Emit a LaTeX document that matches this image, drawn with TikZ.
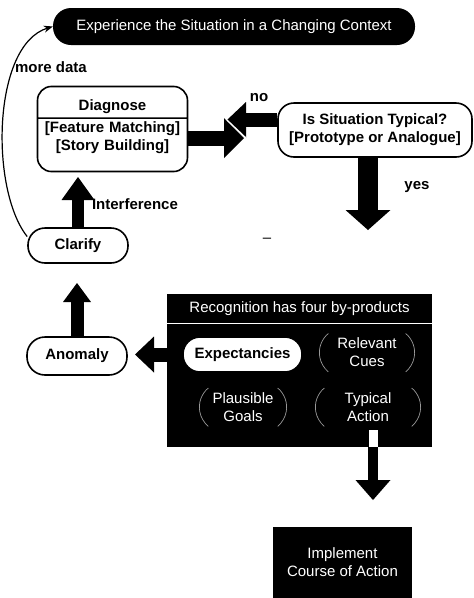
\documentclass[tikz,border=0pt]{standalone}
\usepackage{fontspec}
\setmainfont{Liberation Sans}
\usepackage{tikz}
\usetikzlibrary{shapes.multipart, arrows.meta}
\tikzstyle{dark} = [rectangle, rounded corners=18pt, minimum width=362pt, minimum height=37pt, text centered, fill=black, text=white]
\tikzstyle{box} = [rectangle, rounded corners=16pt, line width=1.6pt, align=center, draw=black, fill=white, font=\bfseries]
\tikzstyle{diag} = [rectangle split, rectangle split parts=2, rounded corners=14pt, line width=1.6pt, draw=black, fill=white, text width=140pt, align=center, inner ysep=3pt, font=\bfseries]
\tikzstyle{panel} = [rectangle, fill=black, text=white, align=center]
\tikzstyle{prod} = [rectangle, minimum height=46pt, text=white, align=center]
\tikzstyle{paren} = [draw=gray!80, line width=0.7pt]
\tikzstyle{lbl} = [font=\bfseries]
\tikzstyle{fat} = [line width=14pt, -{Triangle[length=19pt, width=36pt, line width=0pt]}]
\tikzstyle{thinarrow} = [line width=1.2pt, -{Stealth[length=9pt, width=7pt]}]
\begin{document}
\fontsize{15}{18}\selectfont
\begin{tikzpicture}[x=1pt, y=1pt, node distance=100pt]
\useasboundingbox (0,0) rectangle (474,-598);
\node(1)[dark] at (234,-26.5){Experience the Situation in a Changing Context};
\node(2)[diag, below of=1, xshift=-121.5, yshift=-2.5]{\rule[-4pt]{0pt}{24pt}Diagnose\nodepart{two}[Feature Matching]\\{[Story Building]}\rule[-17pt]{0pt}{17pt}};
\node(3)[box, right of=2, xshift=162.5, yshift=-1, minimum width=194pt, minimum height=54pt]{Is Situation Typical?\\{[Prototype or Analogue]}};
\node(4)[box, below of=2, xshift=-34.5, yshift=-16.5, minimum width=100pt, minimum height=35pt, rounded corners=17pt]{Clarify};
\node(5)[box, below of=4, xshift=-1, yshift=-10.5, minimum width=100pt, minimum height=38pt, rounded corners=18pt]{Anomaly};
\node(6)[panel, right of=5, xshift=122.5, yshift=-14.5, minimum width=265pt, minimum height=153pt]{};
\node(7)[panel, anchor=north, minimum width=265pt, minimum height=29pt] at (6.north){Recognition has four by-products};
\node(8)[box, left of=6, xshift=43, yshift=16, minimum width=119pt, minimum height=35pt, rounded corners=17pt]{Expectancies};
\node(9)[prod, right of=8, xshift=24.5, yshift=2, minimum width=95pt]{Relevant\\Cues};
\node(10)[prod, below of=8, xshift=0.5, yshift=47.5, minimum width=87pt]{Plausible\\Goals};
\node(11)[prod, right of=10, xshift=25, minimum width=105pt]{Typical\\Action};
\node(12)[panel, below of=11, xshift=-25.5, yshift=-55.5, minimum width=139pt, minimum height=71pt]{Implement\\Course of Action};
\node(13)[lbl] at (51,-67.5){more data};
\node(14)[lbl] at (259,-97.5){no};
\node(15)[lbl] at (417,-186.7){yes};
\node(16)[lbl] at (135,-204.5){Interference};
\node(17) at (267,-240){–};
\foreach \n in {9,10,11}{
\draw[paren]([shift={(9,19)}]\n.west) arc (130:230:25);
\draw[paren]([shift={(-9,19)}]\n.east) arc (50:-50:25);
}
\coordinate (c1) at (244,-138);
\coordinate (c2) at (227,-120);
\coordinate (c3) at (368,-230);
\coordinate (c4) at (78,-177);
\coordinate (c5) at (77,-283);
\coordinate (c6) at (135,-354.5);
\coordinate (c7) at (373,-500);
\draw[white, line width=1pt](7.south west) -- (7.south east);
\draw[fat, line width=15pt, -{Triangle[length=20pt, width=40pt, line width=0pt]}](2.east |- c1) -- (c1);
\draw[fat](3.west |- c2) -- (c2);
\draw[white, line width=1.2pt](c2) -- ++(19,-18);
\draw[fat, line width=20pt, -{Triangle[length=20pt, width=45pt, line width=0pt]}](3.south -| c3) -- (c3);
\draw[fat, line width=12pt, -{Triangle[length=23pt, width=33pt, line width=0pt]}](4.north) -- (c4);
\draw[fat, line width=13pt, -{Triangle[length=19pt, width=28pt, line width=0pt]}](5.north) -- (c5);
\draw[fat](8.west) -- (c6);
\draw[white, line width=9pt](c7 |- 11.south) -- (c7 |- 6.south);
\draw[fat, line width=10pt, -{Triangle[length=20pt, width=35pt, line width=0pt]}](c7 |- 6.south) -- (c7);
\draw[thinarrow](4.170) .. controls (-10,-190) and (-8,-45) .. (1.west);
\end{tikzpicture}
\end{document}
